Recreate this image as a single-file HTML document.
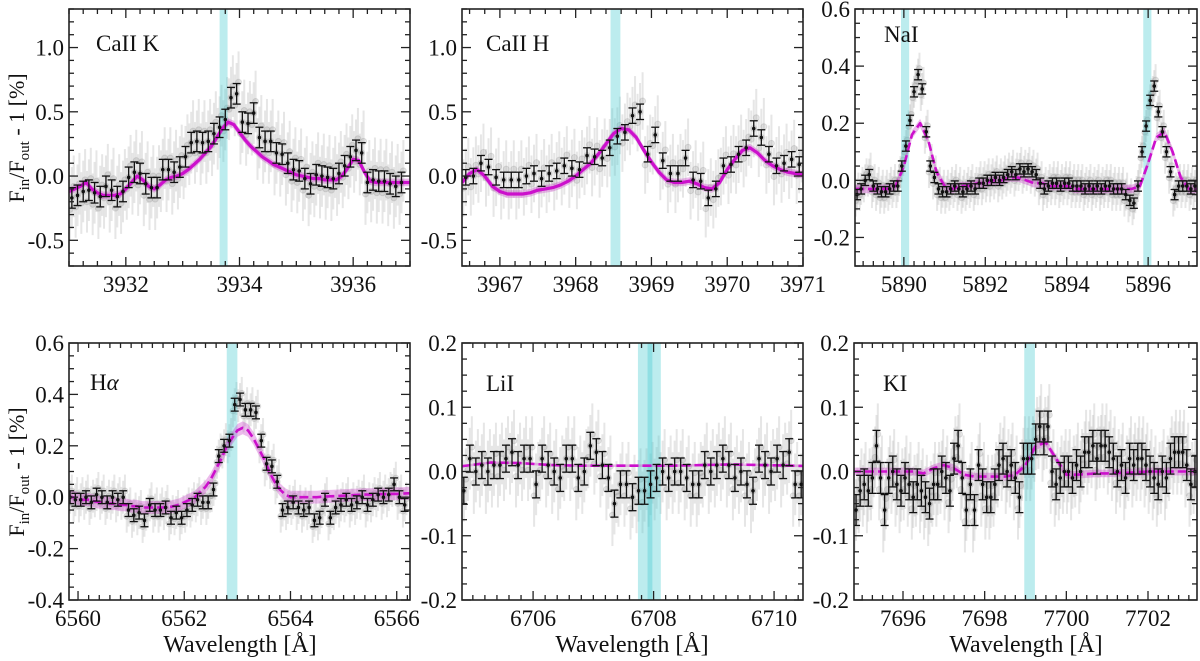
<!DOCTYPE html>
<html><head><meta charset="utf-8"><style>
html,body{margin:0;padding:0;background:#fff}
svg{display:block}
text,tspan{font-family:"Liberation Serif","Times New Roman","DejaVu Serif",serif;fill:#111}
</style></head><body>
<svg id="fig" width="1200" height="661" viewBox="0 0 1200 661" xmlns="http://www.w3.org/2000/svg">
<text transform="translate(24,138) rotate(-90)" text-anchor="middle" font-size="22">F<tspan font-size="15" dy="5">in</tspan><tspan dy="-5">/F</tspan><tspan font-size="15" dy="5">out</tspan><tspan dy="-5"> - 1 [%]</tspan></text>
<text transform="translate(24,472) rotate(-90)" text-anchor="middle" font-size="22">F<tspan font-size="15" dy="5">in</tspan><tspan dy="-5">/F</tspan><tspan font-size="15" dy="5">out</tspan><tspan dy="-5"> - 1 [%]</tspan></text>
<text x="240" y="652" text-anchor="middle" font-size="24">Wavelength [Å]</text>
<text x="632" y="652" text-anchor="middle" font-size="24">Wavelength [Å]</text>
<text x="1026" y="652" text-anchor="middle" font-size="24">Wavelength [Å]</text>
</svg>
<script>
// ---- data (binned points: start wavelength, step, values) ----
const caKStart=3931.05, caKStep=0.1;
const caKBins=[-0.17,-0.15,-0.12,-0.11,-0.13,-0.16,-0.08,-0.11,-0.16,-0.12,-0.01,0.03,0.02,-0.06,-0.09,-0.09,0.05,0.05,0.03,0.07,0.15,0.26,0.27,0.26,0.27,0.33,0.38,0.44,0.61,0.64,0.42,0.41,0.49,0.30,0.27,0.27,0.18,0.17,0.10,0.05,0.04,-0.02,-0.06,0.01,0.00,-0.01,-0.02,0.02,0.08,0.15,0.20,0.18,-0.05,-0.03,-0.04,-0.04,-0.06,-0.08,-0.05];
const caKModel=[-0.12,-0.10,-0.08,-0.05,-0.10,-0.13,-0.15,-0.15,-0.15,-0.14,-0.10,-0.05,0.00,-0.03,-0.08,-0.10,-0.07,-0.03,-0.01,0.00,0.02,0.05,0.09,0.13,0.18,0.23,0.30,0.37,0.42,0.40,0.34,0.28,0.23,0.19,0.15,0.12,0.09,0.07,0.05,0.03,0.01,0.00,-0.01,-0.02,-0.02,-0.03,-0.03,-0.03,0.00,0.06,0.13,0.12,0.03,-0.04,-0.05,-0.05,-0.05,-0.05,-0.05,-0.05,-0.05];
const caKModelStart=3931.0, caKModelStep=0.1;

const caHStart=3966.55, caHStep=0.1;
const caHBins=[-0.01,0.00,0.10,0.07,-0.01,-0.03,-0.03,-0.03,0.00,0.02,-0.02,0.02,0.04,0.08,0.06,0.05,0.16,0.15,0.14,0.22,0.31,0.34,0.47,0.50,0.17,0.32,0.12,0.02,0.02,0.14,-0.03,-0.04,-0.17,-0.10,0.08,0.09,0.17,0.22,0.37,0.30,0.17,0.08,0.10,0.13,0.09];
const caHModel=[-0.05,0.02,0.05,0.00,-0.08,-0.12,-0.14,-0.14,-0.14,-0.13,-0.11,-0.10,-0.09,-0.07,-0.04,0.00,0.05,0.10,0.17,0.25,0.33,0.37,0.36,0.30,0.20,0.11,0.03,-0.03,-0.05,-0.05,-0.04,-0.06,-0.09,-0.10,-0.05,0.05,0.13,0.20,0.22,0.18,0.12,0.08,0.05,0.03,0.02,0.01];
const caHModelStart=3966.5, caHModelStep=0.1;

const naStart=5888.85, naStep=0.1;
const naBins=[-0.05,-0.03,0.00,0.02,-0.02,-0.03,-0.04,-0.04,-0.03,-0.02,-0.02,0.05,0.12,0.21,0.31,0.37,0.32,0.17,0.05,0.01,-0.03,-0.04,-0.04,-0.03,-0.02,-0.03,-0.04,-0.03,-0.02,-0.03,-0.01,-0.01,0.00,0.00,0.01,0.00,0.01,0.02,0.03,0.02,0.04,0.03,0.04,0.03,0.02,-0.01,-0.03,-0.02,-0.01,-0.01,-0.02,-0.01,-0.01,-0.02,-0.02,-0.02,-0.03,-0.02,-0.03,-0.02,-0.03,-0.02,-0.02,-0.03,-0.03,-0.03,-0.05,-0.07,-0.08,-0.02,0.10,0.19,0.28,0.33,0.24,0.17,0.10,0.03,-0.05,-0.02,-0.02,-0.02,-0.03,-0.02,-0.02,-0.03,-0.02,-0.02,-0.02];
const naModel=[-0.03,-0.03,-0.03,-0.03,-0.03,-0.02,0.05,0.16,0.20,0.14,0.03,-0.02,-0.03,-0.02,-0.02,-0.01,-0.01,0.00,0.00,0.01,0.01,0.00,-0.01,-0.01,-0.02,-0.02,-0.02,-0.03,-0.03,-0.03,-0.03,-0.03,-0.03,-0.03,-0.03,-0.02,0.06,0.15,0.17,0.10,0.01,-0.03,-0.03,-0.03,-0.03];
const naModelStart=5888.8, naModelStep=0.2;

const haStart=6559.85, haStep=0.1;
const haBins=[0.00,-0.01,-0.01,0.00,-0.02,0.01,0.00,-0.02,0.00,-0.01,0.00,-0.05,-0.07,-0.06,-0.09,-0.03,-0.05,-0.05,-0.04,-0.08,-0.06,-0.08,-0.05,-0.03,-0.01,-0.02,-0.02,0.03,0.16,0.20,0.22,0.36,0.38,0.34,0.34,0.33,0.22,0.13,0.12,0.06,-0.05,-0.04,-0.02,-0.04,-0.05,-0.04,-0.09,-0.08,-0.01,-0.08,-0.04,-0.03,-0.01,-0.03,-0.02,0.00,-0.03,-0.01,0.01,0.00,0.01,0.05,0.00,-0.03];
const haModel=[0.00,0.00,-0.005,-0.01,-0.01,-0.015,-0.02,-0.02,-0.025,-0.025,-0.03,-0.03,-0.035,-0.035,-0.04,-0.04,-0.04,-0.04,-0.04,-0.04,-0.035,-0.03,-0.02,-0.01,0.00,0.02,0.04,0.07,0.11,0.15,0.20,0.23,0.26,0.27,0.26,0.23,0.19,0.15,0.10,0.06,0.03,0.01,0.00,0.00,0.00,0.00,0.00,0.00,0.002,0.003,0.004,0.005,0.006,0.007,0.008,0.009,0.01,0.01,0.011,0.012,0.012,0.013,0.013,0.014,0.015,0.015];
const haModelStart=6559.8, haModelStep=0.1;

const liStart=6704.85, liStep=0.1;
const liBins=[-0.03,0.02,0.00,0.01,0.00,0.01,0.01,0.02,0.03,0.01,0.02,0.02,-0.02,0.02,0.01,0.00,-0.01,0.02,0.02,-0.01,0.00,0.04,0.03,0.01,-0.01,-0.05,-0.02,-0.02,-0.04,-0.03,-0.03,-0.02,-0.01,0.00,-0.01,0.00,0.00,-0.01,-0.02,-0.02,0.01,0.00,0.01,0.02,0.01,-0.01,0.00,-0.02,-0.03,0.02,0.01,0.00,0.02,0.01,0.03,-0.02,-0.02];
const liModel=[0.008,0.014,0.013,0.010,0.009,0.009,0.009,0.009,0.010,0.011,0.010,0.009,0.008];
const liModelStart=6704.8, liModelStep=0.5;

const kStart=7694.85, kStep=0.1;
const kBins=[-0.06,-0.03,-0.02,-0.03,-0.01,0.04,-0.01,-0.06,-0.01,0.00,-0.02,-0.03,-0.01,-0.02,-0.04,-0.02,-0.03,-0.04,-0.05,-0.02,-0.02,0.00,-0.01,-0.03,0.02,0.04,-0.01,-0.06,-0.02,-0.06,0.01,-0.02,-0.04,-0.04,-0.02,0.01,0.02,0.00,0.01,-0.01,-0.04,0.02,0.02,0.02,0.05,0.07,0.05,0.07,0.00,-0.02,-0.01,0.00,0.00,-0.01,0.01,0.00,0.03,0.03,0.04,0.02,0.04,0.04,0.03,0.02,0.00,0.01,-0.01,0.02,0.01,0.02,0.02,0.01,0.00,-0.01,-0.02,0.00,-0.01,0.02,0.03,0.03,0.03,0.01,-0.02,0.00];
const kModel=[0,0,0,0,0,0,0,-0.003,0.005,0.01,0.005,-0.005,-0.008,-0.008,-0.008,-0.008,-0.005,0.01,0.04,0.045,0.02,-0.005,-0.005,-0.004,-0.003,-0.003,-0.002,-0.002,-0.001,0,0,0,0,0,0];
const kModelStart=7694.75, kModelStep=0.25;

// absorption-line windows (cyan bands)
const caKLines=[[3933.65,3933.79]];
const caHLines=[[3968.46,3968.59]];
const naLines=[[5889.93,5890.13],[5895.88,5896.08]];
const haLines=[[6562.8,6563.0]];
const liLines=[[6707.74,6708.12],[6707.9,6707.98]];
const kLines=[[7698.97,7699.23]];

// ---- layout ----
const panels=[
 {id:'caii-k',label:'CaII K',lx:96,ly:51,box:[69,9,410,266],xd:[3931,3937],yd:[-0.7,1.3],xMaj:2,xFirst:3932,xMin:0.25,yMaj:0.5,yMin:0.1,yDec:1,
  bs:caKStart,bst:caKStep,bins:caKBins,err:0.08,spread:0.3,ms:caKModelStart,mst:caKModelStep,model:caKModel,bw:0.03,lines:caKLines,dash:false},
 {id:'caii-h',label:'CaII H',lx:486,ly:51,box:[462,9,803,266],xd:[3966.5,3971],yd:[-0.7,1.3],xMaj:1,xFirst:3967,xMin:0.2,yMaj:0.5,yMin:0.1,yDec:1,
  bs:caHStart,bst:caHStep,bins:caHBins,err:0.06,spread:0.28,ms:caHModelStart,mst:caHModelStep,model:caHModel,bw:0.03,lines:caHLines,dash:false},
 {id:'nai',label:'NaI',lx:884,ly:42,box:[855,9,1197,266],xd:[5888.8,5897.2],yd:[-0.3,0.6],xMaj:2,xFirst:5890,xMin:0.25,yMaj:0.2,yMin:0.05,yDec:1,
  bs:naStart,bst:naStep,bins:naBins,err:0.018,spread:0.07,ms:naModelStart,mst:naModelStep,model:naModel,bw:0.015,lines:naLines,dash:true},
 {id:'h-alpha',label:'Hα',lx:90,ly:390,box:[69,343,410,600],xd:[6559.83,6566.25],yd:[-0.4,0.6],xMaj:2,xFirst:6560,xMin:0.2,yMaj:0.2,yMin:0.05,yDec:1,
  bs:haStart,bst:haStep,bins:haBins,err:0.025,spread:0.08,ms:haModelStart,mst:haModelStep,model:haModel,bw:0.025,lines:haLines,dash:true},
 {id:'lii',label:'LiI',lx:486,ly:391,box:[462,343,803,600],xd:[6704.82,6710.48],yd:[-0.2,0.2],xMaj:2,xFirst:6706,xMin:0.2,yMaj:0.1,yMin:0.025,yDec:1,
  bs:liStart,bst:liStep,bins:liBins,err:0.021,spread:0.06,ms:liModelStart,mst:liModelStep,model:liModel,bw:0.002,lines:liLines,dash:true},
 {id:'ki',label:'KI',lx:883,ly:391,box:[854,343,1197,600],xd:[7694.8,7703.2],yd:[-0.2,0.2],xMaj:2,xFirst:7696,xMin:0.25,yMaj:0.1,yMin:0.025,yDec:1,
  bs:kStart,bst:kStep,bins:kBins,err:0.024,spread:0.06,ms:kModelStart,mst:kModelStep,model:kModel,bw:0.006,lines:kLines,dash:true}
];

const NS='http://www.w3.org/2000/svg';
const svg=document.getElementById('fig');
function mk(tag,attrs,parent){const e=document.createElementNS(NS,tag);for(const k in attrs)e.setAttribute(k,attrs[k]);(parent||svg).appendChild(e);return e;}

panels.forEach(p=>{
  const [x0,y0,x1,y1]=p.box;
  const sx=v=>x0+(v-p.xd[0])/(p.xd[1]-p.xd[0])*(x1-x0);
  const sy=v=>y1-(v-p.yd[0])/(p.yd[1]-p.yd[0])*(y1-y0);
  const g=mk('g',{});
  
  
  const cid='clip-'+p.id;
  const cp=mk('clipPath',{id:cid},g);
  mk('rect',{x:x0,y:y0,width:x1-x0,height:y1-y0},cp);
  const plot=mk('g',{'clip-path':'url(#'+cid+')'},g);
  // grey raw scatter
  const raw=mk('g',{},plot);
  
  
  p.bins.forEach((v,i)=>{
    const w=p.bs+i*p.bst;
    for(let k=0;k<3;k++){
      const xx=sx(w+(k-1)*p.bst/3);
      const off=(k-1)*p.spread*0.3;
      mk('line',{x1:xx,x2:xx,y1:sy(v+off-p.spread*0.8),y2:sy(v+off+p.spread*0.8),stroke:'rgba(130,130,130,0.2)','stroke-width':2},raw);
      mk('circle',{cx:xx,cy:sy(v+off),r:3,fill:'rgba(120,120,120,0.18)',stroke:'rgba(90,90,90,0.15)'},raw);
    }
  });
  // cyan line windows
  p.lines.forEach((l,i)=>{
    const r=mk('rect',{x:sx(l[0]),y:y0,width:sx(l[1])-sx(l[0]),height:y1-y0,fill:'rgba(64,200,205,0.35)'},plot);
    
    
  });
  // model band & line
  const pts=p.model.map((v,i)=>[sx(p.ms+i*p.mst),v]);
  const up=pts.map(q=>q[0].toFixed(1)+','+sy(q[1]+p.bw).toFixed(1));
  const lo=pts.slice().reverse().map(q=>q[0].toFixed(1)+','+sy(q[1]-p.bw).toFixed(1));
  const band=mk('polygon',{points:up.concat(lo).join(' '),fill:'rgba(200,60,200,0.35)'},plot);
  
  
  const d='M'+pts.map(q=>q[0].toFixed(1)+','+sy(q[1]).toFixed(1)).join(' L');
  const ml=mk('path',{d:d,fill:'none',stroke:'#cc10cc','stroke-width':p.dash?2.6:3.2,'stroke-dasharray':p.dash?'9,4':'none','stroke-linejoin':'round'},plot);
  
  
  // binned points
  const bg=mk('g',{stroke:'#111','stroke-width':1.3},plot);
  
  
  p.bins.forEach((v,i)=>{
    const xx=sx(p.bs+i*p.bst),ya=sy(v+p.err),yb=sy(v-p.err);
    mk('line',{x1:xx,x2:xx,y1:ya,y2:yb},bg);
    mk('line',{x1:xx-4,x2:xx+4,y1:ya,y2:ya},bg);
    mk('line',{x1:xx-4,x2:xx+4,y1:yb,y2:yb},bg);
    mk('circle',{cx:xx,cy:sy(v),r:1.8,fill:'#111',stroke:'none'},bg);
  });
  // frame
  const fr=mk('rect',{x:x0,y:y0,width:x1-x0,height:y1-y0,fill:'none',stroke:'#222','stroke-width':1.6},g);
  
  
  // ticks
  const tk=mk('g',{stroke:'#222','stroke-width':1.3},g);
  
  
  const eps=1e-6;
  for(let v=Math.ceil(p.xd[0]/p.xMin-eps)*p.xMin;v<=p.xd[1]+eps;v+=p.xMin){
    const isMaj=Math.abs(((v-p.xFirst)/p.xMaj)-Math.round((v-p.xFirst)/p.xMaj))<1e-4;
    const L=isMaj?9:5,xx=sx(v);
    mk('line',{x1:xx,x2:xx,y1:y1,y2:y1-L},tk);mk('line',{x1:xx,x2:xx,y1:y0,y2:y0+L},tk);
  }
  for(let v=Math.ceil(p.yd[0]/p.yMin-eps)*p.yMin;v<=p.yd[1]+eps;v+=p.yMin){
    const isMaj=Math.abs(v/p.yMaj-Math.round(v/p.yMaj))<1e-4;
    const L=isMaj?9:5,yy=sy(v);
    mk('line',{x1:x0,x2:x0+L,y1:yy,y2:yy},tk);mk('line',{x1:x1,x2:x1-L,y1:yy,y2:yy},tk);
  }
  // tick labels
  for(let v=p.xFirst;v<=p.xd[1]+eps;v+=p.xMaj){
    const t=mk('text',{x:sx(v),y:y1+26,'text-anchor':'middle','font-size':23},g);
    t.textContent=String(Math.round(v));
    
    
  }
  for(let v=Math.ceil(p.yd[0]/p.yMaj-eps)*p.yMaj;v<=p.yd[1]+eps;v+=p.yMaj){
    const t=mk('text',{x:x0-5,y:sy(v)+8,'text-anchor':'end','font-size':23},g);
    const r=Math.abs(v)<1e-9?0:v;
    t.textContent=r.toFixed(p.yDec);
    
    
  }
  const lb=mk('text',{x:p.lx,y:p.ly,'font-size':23},g);
  if(p.label==='Hα'){lb.innerHTML='H<tspan font-style="italic">α</tspan>';}else lb.textContent=p.label;
  
  
});
</script>
</body></html>
